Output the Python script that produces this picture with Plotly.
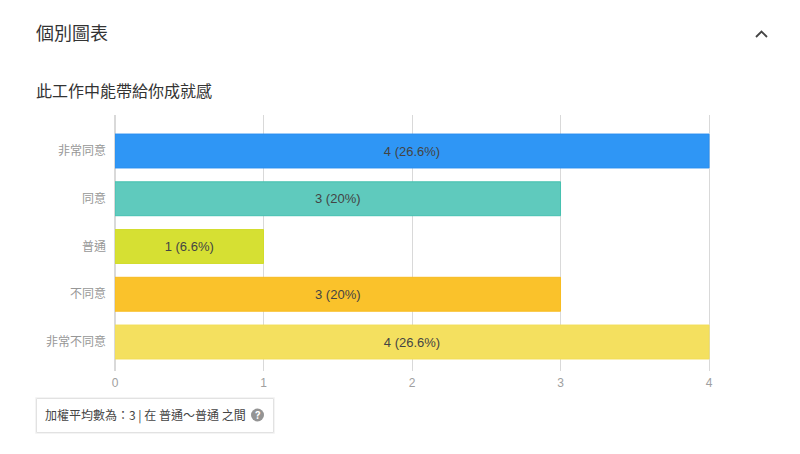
import plotly.graph_objects as go

categories = ['非常同意', '同意', '普通', '不同意', '非常不同意']
counts = [4, 3, 1, 3, 4]
percents = ['26.6%', '20%', '6.6%', '20%', '26.6%']
colors = ['#2f96f5', '#5fcabd', '#d6e033', '#fac22b', '#f4e05f']
line_colors = ['#2b8ff0', '#45c0b0', '#d2dc2a', '#f8bb20', '#f2de58']
x_ticks = [0, 1, 2, 3, 4]

W, H = 800, 454
CJK = 'Noto Sans CJK TC, Noto Sans, sans-serif'
LATIN = 'Liberation Sans, ' + CJK


def px(x):
    return x / W


def py(y):
    return 1 - y / H


labels = [f'{c} ({p})' for c, p in zip(counts, percents)]

bars = go.Bar(
    x=counts, y=categories, orientation='h', text=labels, textposition='inside',
    insidetextanchor='middle', textangle=0, constraintext='none',
    textfont=dict(size=13, color='#444444', family=LATIN),
    marker=dict(color=colors, line=dict(color=line_colors, width=1)),
    showlegend=False,
)

fig = go.Figure(data=[bars])

fig.update_layout(
    width=W, height=H, margin=dict(l=0, r=0, t=0, b=0),
    paper_bgcolor='white', plot_bgcolor='white', bargap=0.29,
    font=dict(family=CJK),
    # range runs a little past 4 so the last gridline is not dropped at the edge
    xaxis=dict(domain=[px(115), px(712)], range=[0, 4.02], tickvals=x_ticks, showgrid=True,
               gridcolor='#d9d9d9', gridwidth=1, zeroline=True, zerolinecolor='#d9d9d9',
               showline=False, ticks='', automargin=False, ticklabelstandoff=3,
               tickfont=dict(size=12, color='#a0a0a0', family=LATIN)),
    yaxis=dict(domain=[py(371), py(115)], range=[4.607, -0.754], showgrid=False, zeroline=False,
               ticks='', showline=False, automargin=False, ticklabelstandoff=8,
               tickfont=dict(size=12, color='#979797')),
    annotations=[
        dict(text='個別圖表', x=px(34), y=py(32), xref='paper', yref='paper', xanchor='left',
             yanchor='middle', showarrow=False, font=dict(size=18, color='#333333')),
        dict(text='此工作中能帶給你成就感', x=px(34), y=py(90), xref='paper', yref='paper', xanchor='left',
             yanchor='middle', showarrow=False, font=dict(size=16, color='#333333')),
        dict(text='加權平均數為：3 | 在 普通～普通 之間', x=px(43), y=py(415), xref='paper', yref='paper',
             xanchor='left', yanchor='middle', showarrow=False, font=dict(size=12, color='#444444')),
        dict(text='<b>?</b>', x=px(257.5), y=py(415), xref='paper', yref='paper', xanchor='center',
             yanchor='middle', showarrow=False, font=dict(size=10, color='white', family='Inter')),
    ],
    shapes=[
        dict(type='rect', xref='paper', yref='paper', x0=px(35.5), x1=px(274.5), y0=py(433.5), y1=py(397.5),
             line=dict(color='#f4f4f4', width=1), fillcolor='white', layer='below'),
        dict(type='rect', xref='paper', yref='paper', x0=px(36.5), x1=px(273.5), y0=py(432.5), y1=py(398.5),
             line=dict(color='#e2e2e2', width=1), fillcolor='white', layer='below'),
        dict(type='circle', xref='paper', yref='paper', x0=px(251), x1=px(264), y0=py(421.5), y1=py(408.5),
             line=dict(width=0), fillcolor='#949494'),
        dict(type='path', xref='paper', yref='paper',
             path=f'M {px(756)} {py(37)} L {px(761.5)} {py(31.5)} L {px(767)} {py(37)}',
             line=dict(color='#444444', width=1.8)),
    ],
)

fig.write_html('out.html', config=dict(displayModeBar=False), post_script="document.body.style.margin='0';")
